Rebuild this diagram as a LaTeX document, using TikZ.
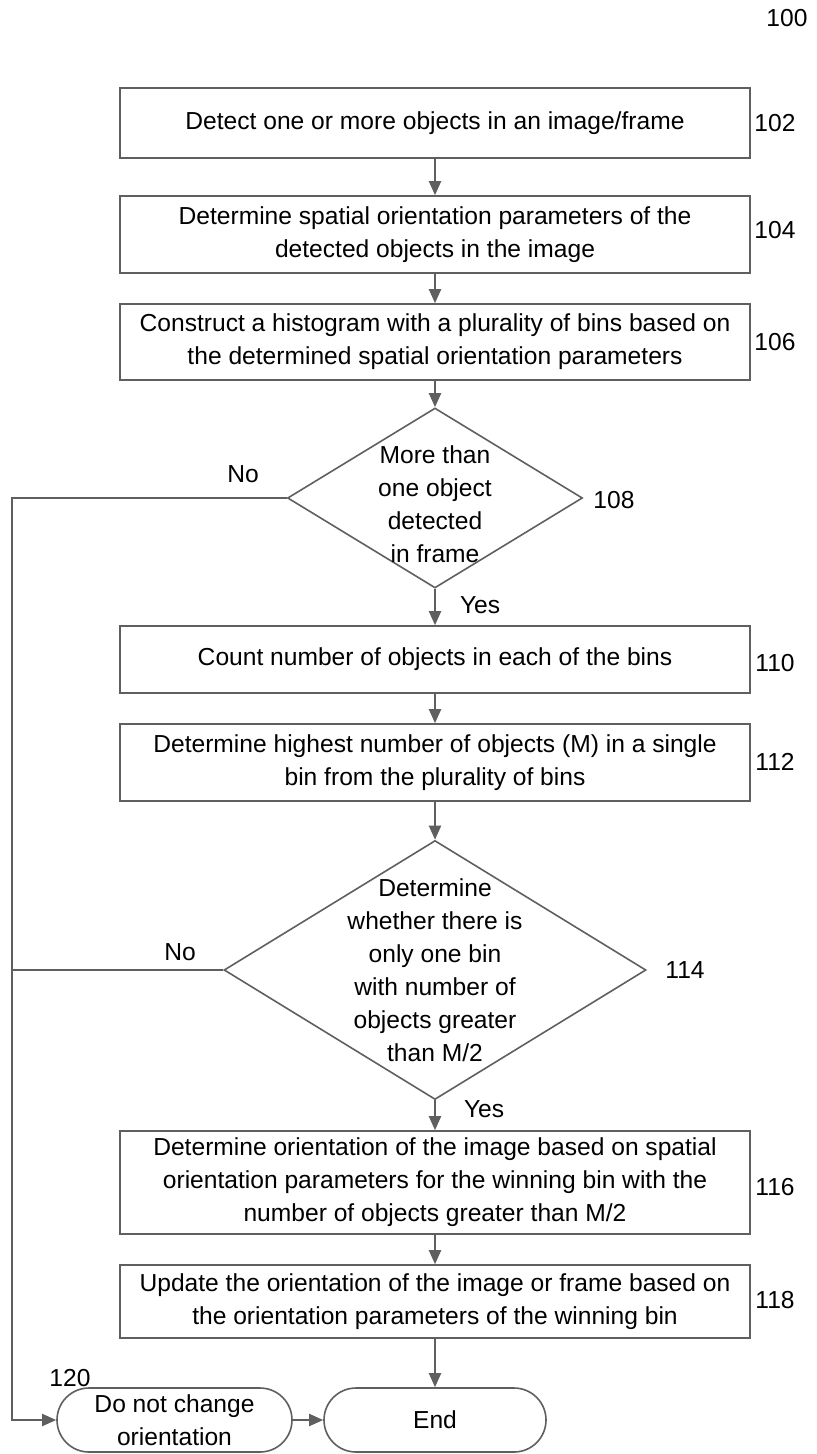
\documentclass[tikz,border=0pt]{standalone}
\usepackage{fontspec}
\setmainfont{Liberation Sans}
\usepackage{tikz}
\usetikzlibrary{arrows.meta,shapes.geometric}

\definecolor{linegray}{RGB}{95,95,95}

\tikzset{
  box/.style={draw=linegray, line width=0.8pt, rectangle, minimum width=315pt, align=center, inner sep=2pt},
  decision/.style={draw=linegray, line width=0.8pt, diamond, inner sep=0pt},
  term/.style={draw=linegray, line width=0.8pt, rectangle, rounded corners=16pt, minimum height=32pt, align=center, inner sep=2pt},
  line/.style={draw=linegray, line width=1pt},
  arr/.style={line, -{Triangle[width=6pt,length=7pt]}},
  lbl/.style={inner sep=0pt}
}

\begin{document}
\begin{tikzpicture}[x=0.5pt,y=-0.5pt,font=\fontsize{12.3}{16.5}\selectfont]
\useasboundingbox (0,0) rectangle (817,1454);

% Figure number
\node[lbl] (n100) at (787,18) {100};

% Process boxes 102 to 106
\node[box, minimum height=35pt] (b102) at (435,123) {Detect one or more objects in an image/frame};
\node[box, minimum height=38.5pt] (b104) at (435,234.5) {Determine spatial orientation parameters of the\\detected objects in the image};
\node[box, minimum height=38pt] (b106) at (435,342) {Construct a histogram with a plurality of bins based on\\the determined spatial orientation parameters};

% Decision 108
\node[decision, minimum width=147.5pt, minimum height=90pt] (d108) at (435,498) {};
\node[lbl, align=center] (t108) at (435,504) {More than\\one object\\detected\\in frame};

% Process boxes 110 and 112
\node[box, minimum height=33.5pt] (b110) at (435,659.5) {Count number of objects in each of the bins};
\node[box, minimum height=38.5pt] (b112) at (435,762.5) {Determine highest number of objects (M) in a single\\bin from the plurality of bins};

% Decision 114
\node[decision, minimum width=211pt, minimum height=129.5pt] (d114) at (435,970) {};
\node[lbl, align=center] (t114) at (d114) {Determine\\whether there is\\only one bin\\with number of\\objects greater\\than M/2};

% Process boxes 116 and 118
\node[box, minimum height=51.5pt] (b116) at (435,1182.5) {Determine orientation of the image based on spatial\\orientation parameters for the winning bin with the\\number of objects greater than M/2};
\node[box, minimum height=36.5pt] (b118) at (435,1301.5) {Update the orientation of the image or frame based on\\the orientation parameters of the winning bin};

% Terminals
\node[term, minimum width=117.5pt] (nochg) at (174.5,1420) {Do not change\\orientation};
\node[term, minimum width=111pt] (end) at (435,1420) {End};

% Reference numerals
\node[lbl] (n102) at (775,123) {102};
\node[lbl] (n104) at (775,230) {104};
\node[lbl] (n106) at (775,342) {106};
\node[lbl] (n108) at (614,500) {108};
\node[lbl] (n110) at (775,663) {110};
\node[lbl] (n112) at (775,762) {112};
\node[lbl] (n114) at (685,970) {114};
\node[lbl] (n116) at (775,1187) {116};
\node[lbl] (n118) at (775,1300) {118};
\node[lbl] (n120) at (70,1378) {120};

% Main flow
\draw[arr] (b102) -- (b104);
\draw[arr] (b104) -- (b106);
\draw[arr] (b106) -- (d108);
\draw[arr] (d108) -- (b110) node[lbl, pos=0.45, right=12pt] (yes1) {Yes};
\draw[arr] (b110) -- (b112);
\draw[arr] (b112) -- (d114);
\draw[arr] (d114) -- (b116) node[lbl, pos=0.3, right=14pt] (yes2) {Yes};
\draw[arr] (b116) -- (b118);
\draw[arr] (b118) -- (end);
\draw[arr] (nochg) -- (end);

% No branches
\coordinate (lft) at (12,1420);
\draw[arr] (d108.west) -| (lft) -- (nochg.west);
\draw[line] (d114.west) -- (d114.west -| lft);
\node[lbl] (no1) at (243,474) {No};
\node[lbl] (no2) at (180,952) {No};
\end{tikzpicture}
\end{document}
